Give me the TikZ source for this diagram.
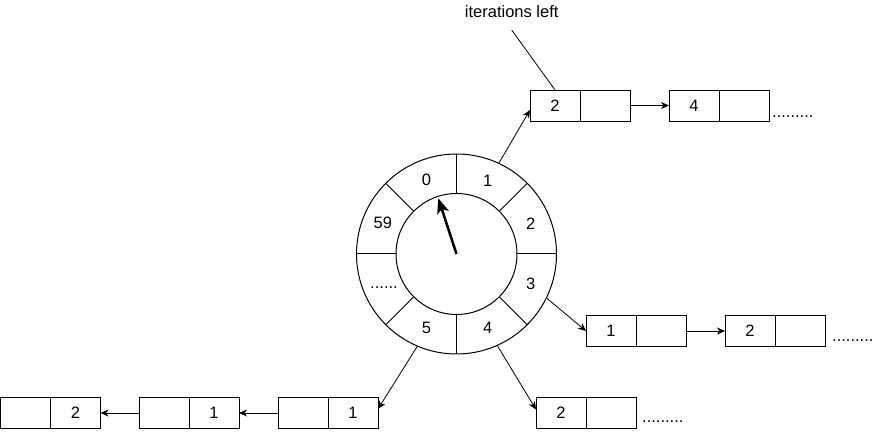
\documentclass[tikz,border=0pt]{standalone}
\usepackage{fontspec}
\setmainfont{Liberation Sans}
\usetikzlibrary{arrows.meta}
\begin{document}
\begin{tikzpicture}[x=1pt,y=-1pt,
  font=\fontsize{16.5}{19}\selectfont,
  cell/.style={draw, line width=0.9pt, minimum width=50pt, minimum height=31pt, inner sep=0pt, outer sep=0pt},
  ringc/.style={draw, circle, line width=1pt, inner sep=0pt, outer sep=0pt},
  link/.style={draw, line width=0.8pt, -{Stealth[length=8pt,width=7pt,inset=2.5pt]}},
  plainline/.style={draw, line width=0.8pt},
  dotstext/.style={inner sep=0pt, anchor=base west},
  seglabel/.style={inner sep=0pt}]
\useasboundingbox (0,0) rectangle (876,438);

% wheel
\node[ringc, minimum size=200pt] (outer) at (456.5,254) {};
\node[ringc, minimum size=121pt] (inner) at (456.5,254) {};
\foreach \a in {0,45,...,315}
  \draw[line width=1pt] (inner.\a) -- (outer.\a);
\foreach \a/\t in {112.5/0, 67.5/1, 22.5/2, -22.5/3, -67.5/4, -112.5/5, 157.5/59}
  \path (outer.center) -- (outer.\a) node[seglabel, pos=0.8] {\t};
\path (outer.center) -- (outer.-155) node[seglabel, pos=0.8] (segdots) {......};

% hand
\coordinate (handtip) at (438.3,198.3);
\draw[line width=2.5pt, -{Stealth[length=15pt,width=12pt,inset=3.5pt]}] (outer.center) -- (handtip);

% top list
\node[cell] (t1a) at (555,105.5) {2};
\node[cell] (t1b) at (605,105.5) {};
\node[cell] (t2a) at (694,105.5) {4};
\node[cell] (t2b) at (744,105.5) {};
\node[dotstext] (tdots) at (772,118) {.........};

% iterations left label
\node[inner sep=0pt] (iter) at (511.7,11.5) {iterations left};
\coordinate (iterend) at (511.7,30);
\draw[plainline] (iterend) -- (t1a.north);

% middle right list
\node[cell] (m1a) at (611,331) {1};
\node[cell] (m1b) at (661,331) {};
\node[cell] (m2a) at (750,331) {2};
\node[cell] (m2b) at (800,331) {};
\node[dotstext] (mdots) at (832,342) {.........};

% bottom right list
\node[cell] (d1) at (561,413) {2};
\node[cell] (d2) at (611,413) {};
\node[dotstext] (ddots) at (642,422) {.........};

% bottom left list
\node[cell] (a1) at (25.5,413) {};
\node[cell] (a2) at (75.5,413) {2};
\node[cell] (b1) at (164,413) {};
\node[cell] (b2) at (214,413) {1};
\node[cell] (c1) at (303,413) {};
\node[cell] (c2) at (353,413) {1};

% connectors
\draw[link] (outer.65) -- ([yshift=-4.5pt]t1a.west);
\draw[link] (t1b.east) -- (t2a.west);
\draw[link] (outer.-26) -- (m1a.west);
\draw[link] (m1b.east) -- (m2a.west);
\draw[link] (outer.-66.6) -- ([yshift=3.5pt]d1.west);
\draw[link] (outer.-113.1) -- ([yshift=4pt]c2.east);
\draw[link] (c1.west) -- (b2.east);
\draw[link] (b1.west) -- (a2.east);
\end{tikzpicture}
\end{document}
